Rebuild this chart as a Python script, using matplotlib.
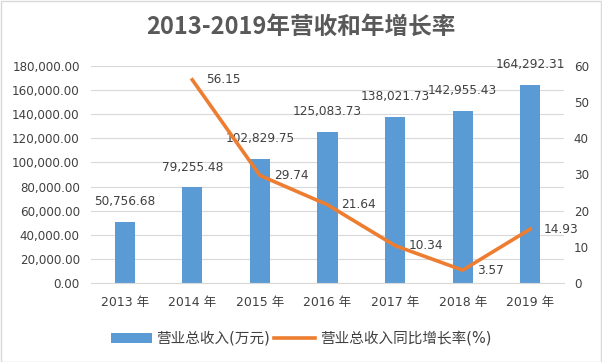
import numpy as np
import matplotlib
matplotlib.use("Agg")
import matplotlib.pyplot as plt
from matplotlib.patches import Rectangle
from matplotlib.ticker import FuncFormatter

plt.rcParams['font.family'] = ['DejaVu Sans', 'Noto Sans CJK SC']

years = ["2013 年", "2014 年", "2015 年", "2016 年", "2017 年", "2018 年", "2019 年"]
revenue = [50756.68, 79255.48, 102829.75, 125083.73, 138021.73, 142955.43, 164292.31]
growth_years = ["2014 年", "2015 年", "2016 年", "2017 年", "2018 年", "2019 年"]
growth = [56.15, 29.74, 21.64, 10.34, 3.57, 14.93]

blue = "#5B9BD5"
orange = "#ED7D31"
txt = "#404040"

fig = plt.figure(figsize=(6.02, 3.62), dpi=100)
fig.patches.append(Rectangle((0.001, 0.001), 0.997, 0.996, transform=fig.transFigure,
                             fill=False, edgecolor="#D9D9D9", linewidth=1))
ax = fig.add_axes([0.151, 0.218, 0.786, 0.600])
ax2 = ax.twinx()

x = np.arange(len(years))
gx = np.array([years.index(y) for y in growth_years])

ax.bar(x, revenue, width=0.3, color=blue, zorder=2, label="营业总收入(万元)")
ax.set_ylim(0, 180000)
ax.set_yticks(np.arange(0, 180001, 20000))
ax.yaxis.set_major_formatter(FuncFormatter(lambda v, p: f"{v:,.2f}"))
ax.set_xlim(-0.5, len(years) - 0.5)
ax.set_xticks(x)
ax.set_xticklabels(years)
ax.grid(axis="y", color="#D9D9D9", linewidth=0.8, zorder=0)
ax.set_axisbelow(True)

ax2.plot(gx, growth, color=orange, linewidth=2.6, zorder=3, label="营业总收入同比增长率(%)")
ax2.set_ylim(0, 60)
ax2.set_yticks(np.arange(0, 61, 10))

for a in (ax, ax2):
    for s in a.spines.values():
        s.set_visible(False)
    a.tick_params(length=0, colors=txt, labelsize=8.6)
ax.spines["bottom"].set_visible(True)
ax.spines["bottom"].set_color("#D9D9D9")
ax.tick_params(axis="x", pad=9, labelsize=9)
ax.tick_params(axis="y", pad=8)
ax2.tick_params(axis="y", pad=7)

for xi, v in zip(x, revenue):
    ax.annotate(f"{v:,.2f}", (xi, v), xytext=(0, 10), textcoords="offset points",
                ha="center", va="bottom", fontsize=8.7, color=txt, zorder=5)
for xi, v in zip(gx, growth):
    ax2.annotate(f"{v:.2f}", (xi, v), xytext=(10, 0), textcoords="offset points",
                 ha="left", va="center", fontsize=8.7, color=txt, zorder=5)

fig.text(0.5, 0.925, "2013-2019年营收和年增长率", ha="center", va="center",
         fontsize=17, fontweight="bold", color="#595959", family=['Noto Sans CJK SC'])

h1, l1 = ax.get_legend_handles_labels()
h2, l2 = ax2.get_legend_handles_labels()
fig.legend(h1 + h2, l1 + l2, loc="center", bbox_to_anchor=(0.5, 0.065), ncol=2,
           frameon=False, fontsize=10.5, handlelength=2.8, columnspacing=0.3,
           handletextpad=0.3, labelcolor=txt)

fig.savefig("out.png", dpi=100)
